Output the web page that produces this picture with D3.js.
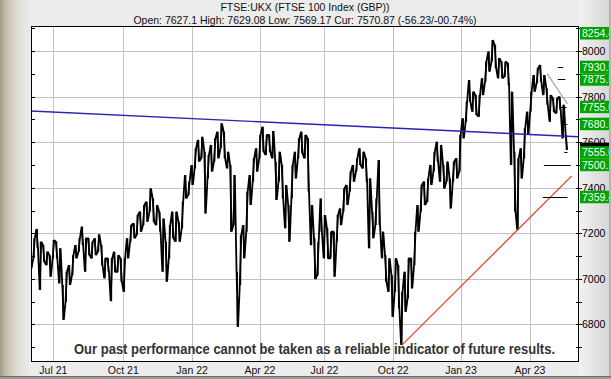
<!DOCTYPE html>
<html>
<head>
<meta charset="utf-8">
<script src="https://cdn.jsdelivr.net/npm/d3@7"></script>
<style>
html, body { margin: 0; padding: 0; background: #ececec; overflow: hidden; }
svg { display: block; font-family: "Liberation Sans", Arial, sans-serif; }
</style>
</head>
<body>
<svg id="chart" width="611" height="379"></svg>
<script>
// --- DATA ---
// FTSE 100, one high/low pair every 3 trading days, ending on lastDate
var lastDate = "2023-05-25";
var sampleStep = 3;
var priceHigh = [
  7104, 7178, 7219, 7163, 7148, 7119, 7104, 7170, 7163, 7134,
  6973, 7031, 7060, 7104, 7148, 7178, 7229, 7178, 7178, 7163,
  7178, 7195, 7148, 7090, 7090, 7090, 7119, 7104, 7090, 7090,
  7178, 7236, 7244, 7280, 7295, 7324, 7339, 7397, 7353, 7324,
  7295, 7265, 7163, 7236, 7295, 7295, 7251, 7339, 7456, 7427,
  7500, 7573, 7610, 7624, 7558, 7544, 7588, 7617, 7646, 7683,
  7646, 7558, 7500, 7456, 7031, 7192, 7236, 7383, 7456, 7529,
  7573, 7632, 7668, 7632, 7632, 7649, 7515, 7558, 7500, 7412,
  7324, 7500, 7558, 7617, 7646, 7632, 7617, 7324, 7178, 7163,
  7353, 7280, 7222, 7207, 7207, 7280, 7309, 7397, 7412, 7471,
  7500, 7529, 7573, 7558, 7529, 7441, 7295, 7353, 7522, 7207,
  7104, 7090, 7016, 7090, 7060, 6943, 7031, 7090, 7090, 7207,
  7324, 7412, 7427, 7441, 7500, 7558, 7602, 7588, 7500, 7515,
  7441, 7515, 7529, 7632, 7705, 7778, 7873, 7822, 7807, 7807,
  7881, 7954, 7998, 8049, 8027, 7969, 7954, 7954, 7947, 7822,
  7558, 7529, 7573, 7661, 7734, 7822, 7895, 7925, 7939, 7895,
  7837, 7807, 7793, 7793, 7800, 7764, 7632
];
var priceLow = [
  7046, 7090, 7134, 6951, 7075, 7060, 7009, 7090, 7090, 6980,
  6819, 6899, 6973, 7016, 7090, 7119, 7148, 7031, 7104, 7090,
  7104, 7119, 7060, 7002, 7031, 6902, 7031, 7031, 6987, 6943,
  7090, 7163, 7178, 7192, 7207, 7236, 7251, 7295, 7251, 7236,
  7207, 7031, 6987, 7090, 7178, 7163, 7163, 7222, 7353, 7368,
  7412, 7485, 7515, 7529, 7287, 7441, 7471, 7515, 7529, 7573,
  7529, 7485, 7207, 7236, 6789, 6973, 7090, 7207, 7324, 7427,
  7471, 7529, 7558, 7544, 7558, 7529, 7346, 7427, 7353, 7222,
  7163, 7353, 7441, 7529, 7551, 7529, 7383, 7148, 6999, 7016,
  7207, 7090, 7090, 7090, 7009, 7163, 7236, 7295, 7324, 7383,
  7427, 7471, 7500, 7485, 7427, 7134, 7178, 7236, 7236, 7090,
  6987, 6943, 6833, 6943, 6870, 6709, 6855, 6914, 6958, 7060,
  7207, 7295, 7324, 7339, 7412, 7471, 7515, 7427, 7397, 7427,
  7309, 7427, 7441, 7471, 7617, 7690, 7778, 7734, 7720, 7712,
  7807, 7866, 7910, 7954, 7925, 7881, 7881, 7888, 7851, 7500,
  7295, 7214, 7441, 7529, 7632, 7734, 7822, 7859, 7866, 7807,
  7764, 7690, 7734, 7727, 7742, 7617, 7566
];

// LSE closures inside the window
var holidays = ["2021-08-30", "2021-12-27", "2021-12-28", "2022-01-03", "2022-04-15",
  "2022-04-18", "2022-05-02", "2022-06-02", "2022-06-03", "2022-08-29", "2022-09-19",
  "2022-12-26", "2022-12-27", "2023-01-02", "2023-04-07", "2023-04-10", "2023-05-01",
  "2023-05-08", "2023-05-29"];

var quarterDates = ["2021-07-01", "2021-10-01", "2022-01-04", "2022-04-01", "2022-07-01", "2022-10-03", "2023-01-03", "2023-04-03"];
var quarterLabels = ["Jul 21", "Oct 21", "Jan 22", "Apr 22", "Jul 22", "Oct 22", "Jan 23", "Apr 23"];
var gridValues = [6800, 7000, 7200, 7400, 7600, 7800, 8000];

// trend lines: [date, price] pairs
var resistanceLine = [["2021-06-02", 7737], ["2023-06-12", 7624]];
var supportLine = [["2022-10-13", 6709], ["2023-06-02", 7452]];
var fallLine = [["2023-04-27", 7901], ["2023-05-26", 7768]];

// target levels: [price, from, to]
var targets = [
  [7930.5, "2023-05-15", "2023-05-22"],
  [7875.5, "2023-05-15", "2023-05-24"],
  [7755.0, "2023-05-18", "2023-05-25"],
  [7680.1, "2023-05-18", "2023-05-26"],
  [7555.0, "2023-05-23", "2023-05-26"],
  [7500.0, "2023-04-24", "2023-06-01"],
  [7359.4, "2023-04-21", "2023-05-26"]
];
var labelLevels = [8254.45, 7930.58, 7875.53, 7755.04, 7680.12, 7555.06, 7500.13, 7359.42];
var curPrice = 7570.87;

var titleText = "FTSE:UKX (FTSE 100 Index (GBP))";
var subtitleText = "Open: 7627.1 High: 7629.08 Low: 7569.17 Cur: 7570.87 (-56.23/-00.74%)";
var disclaimer = "Our past performance cannot be taken as a reliable indicator of future results.";

// --- SETUP ---
var W = 611, H = 379;
var plot = { left: 31, right: 579, top: 27, bottom: 361 };
var svg = d3.select("#chart");
var parse = d3.timeParse("%Y-%m-%d"), fmt = d3.timeFormat("%Y-%m-%d");
var hol = new Set(holidays);
var tradingDays = d3.timeDay.range(parse("2021-06-01"), parse("2023-07-01"))
  .filter(d => d.getDay() !== 0 && d.getDay() !== 6 && !hol.has(fmt(d)));
function dayIndex(s) { return d3.bisectLeft(tradingDays, parse(s)); }

var x = d3.scaleLinear()
  .domain([dayIndex("2021-06-02") + 0.2, dayIndex("2023-06-12") + 0.7])
  .range([plot.left, plot.right]);
var y = d3.scaleLinear().domain([6639, 8106]).range([plot.bottom, plot.top]);

var lastIdx = dayIndex(lastDate);
var samples = priceHigh.map((h, k) => ({
  i: lastIdx - sampleStep * (priceHigh.length - 1 - k),
  hi: h, lo: priceLow[k]
}));

var defs = svg.append("defs");
var lg = defs.append("linearGradient").attr("id", "leftFrame");
[["0%", "#a39b89"], ["20%", "#c6bfaf"], ["60%", "#e1ded6"], ["100%", "#ececec"]]
  .forEach(s => lg.append("stop").attr("offset", s[0]).attr("stop-color", s[1]));
var rg = defs.append("linearGradient").attr("id", "rightFrame");
[["0%", "#f2f2f2"], ["100%", "#d6d6d6"]]
  .forEach(s => rg.append("stop").attr("offset", s[0]).attr("stop-color", s[1]));
defs.append("clipPath").attr("id", "plotClip").append("rect")
  .attr("x", plot.left).attr("y", plot.top)
  .attr("width", plot.right - plot.left).attr("height", plot.bottom - plot.top);
defs.append("clipPath").attr("id", "labelClip").append("rect")
  .attr("x", plot.right).attr("y", 0).attr("width", 609 - plot.right).attr("height", H);

// --- FRAME ---
svg.append("rect").attr("width", W).attr("height", H).attr("fill", "#ececec");
svg.append("rect").attr("x", 0).attr("y", 0).attr("width", 30).attr("height", H).attr("fill", "url(#leftFrame)");
svg.append("rect").attr("x", plot.right).attr("y", 0).attr("width", 30).attr("height", H).attr("fill", "url(#rightFrame)");
svg.append("rect").attr("x", 609).attr("y", 0).attr("width", 2).attr("height", H).attr("fill", "#b4b4b4");
svg.append("rect").attr("x", 0).attr("y", 376).attr("width", W).attr("height", 3).attr("fill", "#9a9a9a");
svg.append("line").attr("x1", 0).attr("x2", W).attr("y1", 376.5).attr("y2", 376.5).attr("stroke", "#6e6e6e");

// --- PLOT ---
svg.append("rect").attr("x", plot.left).attr("y", plot.top)
  .attr("width", plot.right - plot.left).attr("height", plot.bottom - plot.top).attr("fill", "#fff");

var g = svg.append("g").attr("clip-path", "url(#plotClip)");

g.selectAll(".hgrid").data(gridValues).enter().append("line")
  .attr("x1", plot.left).attr("x2", plot.right)
  .attr("y1", d => Math.round(y(d)) + 0.5).attr("y2", d => Math.round(y(d)) + 0.5)
  .attr("stroke", "#c2c2c2");
g.selectAll(".vgrid").data(quarterDates).enter().append("line")
  .attr("x1", d => Math.round(x(dayIndex(d))) + 0.5).attr("x2", d => Math.round(x(dayIndex(d))) + 0.5)
  .attr("y1", plot.top).attr("y2", plot.bottom)
  .attr("stroke", "#c2c2c2");

// price trace: each sample drawn as a high-low stroke, joined into one zigzag
var zig = [];
samples.forEach(function(d, k) {
  if (k % 2 === 0) { zig.push([d.i - 0.7, d.hi]); zig.push([d.i + 0.7, d.lo]); }
  else { zig.push([d.i - 0.7, d.lo]); zig.push([d.i + 0.7, d.hi]); }
});
var trace = d3.line().x(p => x(p[0])).y(p => y(p[1]));
g.append("path").attr("d", trace(zig))
  .attr("fill", "none").attr("stroke", "#000").attr("stroke-width", 1.8)
  .attr("stroke-linejoin", "miter").attr("stroke-miterlimit", 2);
g.selectAll(".bar").data(samples).enter().append("line")
  .attr("x1", d => x(d.i)).attr("x2", d => x(d.i))
  .attr("y1", d => y(d.hi)).attr("y2", d => y(d.lo))
  .attr("stroke", "#000").attr("stroke-width", 1.4);

var tline = d3.line().x(d => x(dayIndex(d[0]))).y(d => y(d[1]));
g.append("path").attr("d", tline(resistanceLine)).attr("fill", "none")
  .attr("stroke", "#2626b0").attr("stroke-width", 1.4);
g.append("path").attr("d", tline(supportLine)).attr("fill", "none")
  .attr("stroke", "#e43a24").attr("stroke-width", 1.2);
g.append("path").attr("d", tline(fallLine)).attr("fill", "none")
  .attr("stroke", "#a8a8a8").attr("stroke-width", 1.2);

g.selectAll(".target").data(targets).enter().append("line")
  .attr("x1", d => x(dayIndex(d[1]))).attr("x2", d => x(dayIndex(d[2])))
  .attr("y1", d => Math.round(y(d[0])) + 0.5).attr("y2", d => Math.round(y(d[0])) + 0.5)
  .attr("stroke", "#000").attr("stroke-width", 1);

// disclaimer
svg.append("text").attr("x", 74).attr("y", 354)
  .attr("textLength", 481).attr("lengthAdjust", "spacingAndGlyphs")
  .attr("font-size", 15).attr("font-weight", "bold").attr("fill", "#333")
  .text(disclaimer);

// border
svg.append("rect").attr("x", plot.left + 0.5).attr("y", plot.top - 0.5)
  .attr("width", plot.right - plot.left - 1).attr("height", plot.bottom - plot.top + 1)
  .attr("fill", "none").attr("stroke", "#000");

// minor ticks every 100
var tickValues = d3.range(6700, 8101, 100);
svg.selectAll(".ltick").data(tickValues).enter().append("line")
  .attr("x1", plot.left).attr("x2", plot.left + 4)
  .attr("y1", d => Math.round(y(d)) + 0.5).attr("y2", d => Math.round(y(d)) + 0.5)
  .attr("stroke", "#000");
svg.selectAll(".rtick").data(tickValues).enter().append("line")
  .attr("x1", plot.right - 3).attr("x2", plot.right + 3)
  .attr("y1", d => Math.round(y(d)) + 0.5).attr("y2", d => Math.round(y(d)) + 0.5)
  .attr("stroke", "#000");

// right axis labels
svg.selectAll(".rlab").data(gridValues).enter().append("text")
  .attr("x", plot.right + 3).attr("y", d => y(d) + 4)
  .attr("font-size", 10.5).attr("fill", "#000")
  .text(d => d);

// price boxes
var lab = svg.append("g").attr("clip-path", "url(#labelClip)");
var boxH = 12.5;
function boxY(v) { return Math.max(plot.top, y(v) - boxH / 2); }
lab.append("rect").attr("x", plot.right + 1).attr("y", boxY(curPrice))
  .attr("width", 40).attr("height", boxH).attr("fill", "#000");
var gb = lab.selectAll(".gbox").data(labelLevels).enter().append("g");
gb.append("rect").attr("x", plot.right + 1).attr("y", d => boxY(d))
  .attr("width", 40).attr("height", boxH).attr("fill", "#00a400");
gb.append("text").attr("x", plot.right + 3).attr("y", d => boxY(d) + 10)
  .attr("font-size", 10.5).attr("fill", "#fff")
  .text(d => d.toFixed(2));

// x labels
svg.selectAll(".xlab").data(quarterDates).enter().append("text")
  .attr("x", d => x(dayIndex(d))).attr("y", 373.5)
  .attr("text-anchor", "middle").attr("font-size", 10.5).attr("fill", "#111")
  .text((d, i) => quarterLabels[i]);

// title
svg.append("text").attr("x", 305).attr("y", 11).attr("text-anchor", "middle")
  .attr("font-size", 10.5).attr("fill", "#111").text(titleText);
svg.append("text").attr("x", 305).attr("y", 23.5).attr("text-anchor", "middle")
  .attr("font-size", 10.5).attr("fill", "#111").text(subtitleText);
</script>
</body>
</html>
